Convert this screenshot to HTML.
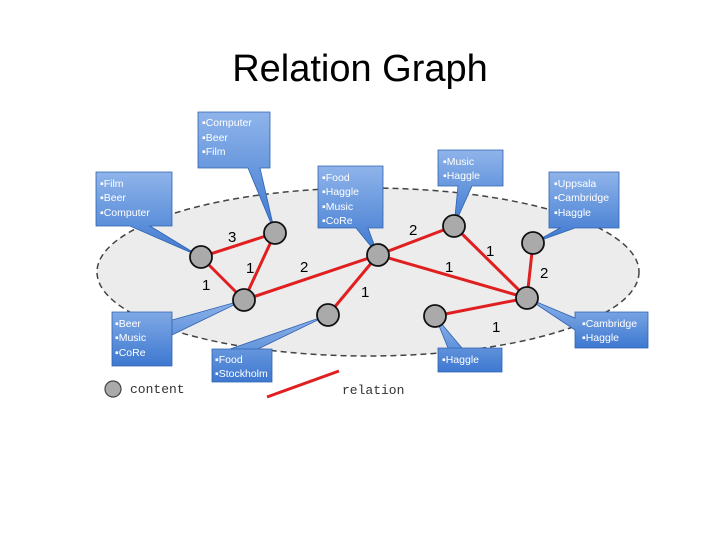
<!DOCTYPE html>
<html><head><meta charset="utf-8"><style>
body{margin:0;background:#fff;width:720px;height:540px;overflow:hidden}
svg{display:block}
.t{font-family:"Liberation Sans",sans-serif;font-size:10.5px;fill:#fff}
.n{font-family:"Liberation Sans",sans-serif;font-size:15px;fill:#000}
.m{font-family:"Liberation Mono",monospace;font-size:13px;fill:#333}
</style></head><body>
<svg width="720" height="540" viewBox="0 0 720 540">
<defs>
<linearGradient id="g" x1="0" y1="0" x2="0" y2="1">
<stop offset="0" stop-color="#8fb4ea"/><stop offset="1" stop-color="#3d78d0"/></linearGradient>
</defs>
<text x="360" y="81" text-anchor="middle" font-family="Liberation Sans,sans-serif" font-size="38" fill="#000">Relation Graph</text>
<ellipse cx="368" cy="272" rx="271" ry="84" fill="#ececec" stroke="#444" stroke-width="1.5" stroke-dasharray="6,4"/>
<g stroke="#e02020" stroke-width="3">
<line x1="201" y1="257" x2="275" y2="233"/>
<line x1="201" y1="257" x2="244" y2="300"/>
<line x1="275" y1="233" x2="244" y2="300"/>
<line x1="244" y1="300" x2="378" y2="255"/>
<line x1="378" y1="255" x2="328" y2="315"/>
<line x1="378" y1="255" x2="454" y2="226"/>
<line x1="378" y1="255" x2="527" y2="298"/>
<line x1="454" y1="226" x2="527" y2="298"/>
<line x1="533" y1="243" x2="527" y2="298"/>
<line x1="435" y1="316" x2="527" y2="298"/>
<line x1="267" y1="397" x2="339" y2="371"/>
</g>
<g fill="url(#g)" stroke="#2f62b0" stroke-width="0.8">
<path d="M198,112 H270 V168 H260 L275,233 L248,168 H198 Z"/>
<path d="M96,172 H172 V226 H150 L201,257 L130,226 H96 Z"/>
<path d="M318,166 H383 V228 H368 L378,255 L356,228 H318 Z"/>
<path d="M438,150 H503 V186 H472 L454,226 L458,186 H438 Z"/>
<path d="M549,172 H619 V228 H575 L533,243 L560,228 H549 Z"/>
<path d="M575,312 H648 V348 H575 V330 L527,298 L575,318 Z"/>
<path d="M438,348 H502 V372 H438 V348 H448 L435,316 L462,348 Z"/>
<path d="M212,349 H272 V382 H212 Z M230,349 L328,315 L258,349 Z"/>
<path d="M112,312 H172 V366 H112 Z M172,320 L244,300 L172,335 Z"/>
</g>
<g fill="#aaa" stroke="#111" stroke-width="1.8">
<circle cx="201" cy="257" r="11"/><circle cx="275" cy="233" r="11"/>
<circle cx="244" cy="300" r="11"/><circle cx="378" cy="255" r="11"/>
<circle cx="454" cy="226" r="11"/><circle cx="533" cy="243" r="11"/>
<circle cx="527" cy="298" r="11"/><circle cx="435" cy="316" r="11"/>
<circle cx="328" cy="315" r="11"/>
</g>
<circle cx="113" cy="389" r="8" fill="#aaa" stroke="#444" stroke-width="1.2"/>
<text class="m" x="130" y="393">content</text>
<text class="m" x="342" y="394">relation</text>
<g class="n">
<text x="228" y="242">3</text><text x="246" y="273">1</text><text x="202" y="290">1</text>
<text x="300" y="272">2</text><text x="361" y="297">1</text><text x="409" y="235">2</text>
<text x="486" y="256">1</text><text x="445" y="272">1</text><text x="540" y="278">2</text>
<text x="492" y="332">1</text>
</g>
<g class="t">
<text x="202" y="126">▪Computer</text><text x="202" y="141">▪Beer</text><text x="202" y="155">▪Film</text>
<text x="100" y="187">▪Film</text><text x="100" y="201">▪Beer</text><text x="100" y="216">▪Computer</text>
<text x="322" y="181">▪Food</text><text x="322" y="195">▪Haggle</text><text x="322" y="210">▪Music</text><text x="322" y="224">▪CoRe</text>
<text x="443" y="165">▪Music</text><text x="443" y="179">▪Haggle</text>
<text x="554" y="187">▪Uppsala</text><text x="554" y="201">▪Cambridge</text><text x="554" y="216">▪Haggle</text>
<text x="582" y="327">▪Cambridge</text><text x="582" y="341">▪Haggle</text>
<text x="442" y="363">▪Haggle</text>
<text x="215" y="363">▪Food</text><text x="215" y="377">▪Stockholm</text>
<text x="115" y="327">▪Beer</text><text x="115" y="341">▪Music</text><text x="115" y="356">▪CoRe</text>
</g>
</svg>
</body></html>
